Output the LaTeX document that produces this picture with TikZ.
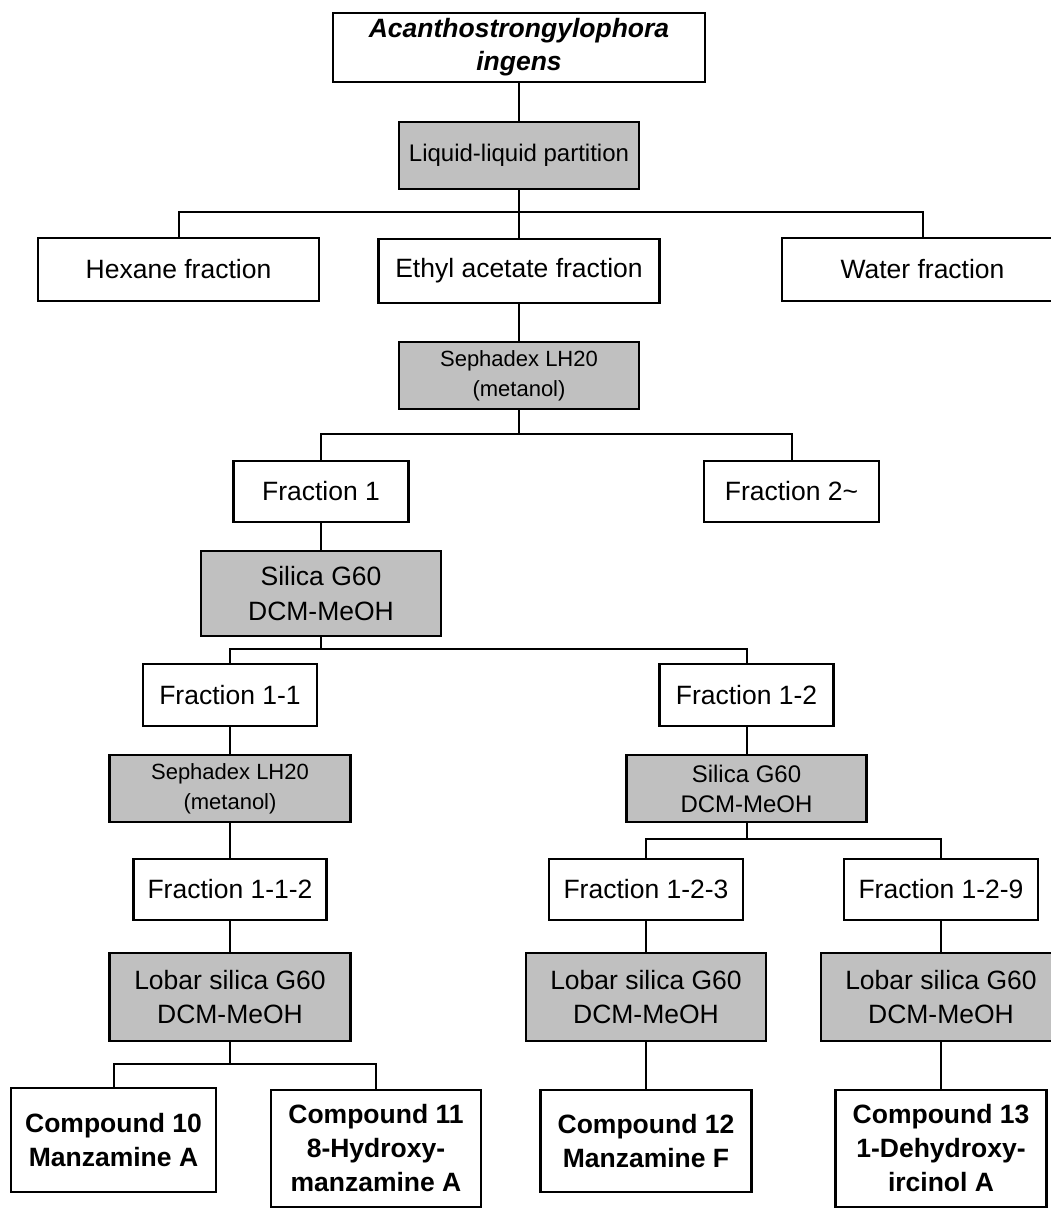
\documentclass[tikz,border=0pt]{standalone}
\usepackage{fontspec}
\setmainfont{Liberation Sans}
\definecolor{boxgray}{HTML}{C0C0C0}
\begin{document}
\begin{tikzpicture}[x=1pt,y=-1pt,
  box/.style={draw=black, line width=2.2pt, fill=white, inner sep=0pt, align=center,
    font=\fontsize{26.5}{34}\selectfont},
  gbox/.style={box, fill=boxgray},
  med/.style={font=\fontsize{24}{30}\selectfont},
  sml/.style={font=\fontsize{22}{30}\selectfont},
  cmp/.style={box, font=\fontsize{26.5}{34}\selectfont\bfseries},
  conn/.style={draw=black, line width=2pt}]
\useasboundingbox (0,0) rectangle (1050,1208);
\fill[white] (0,0) rectangle (1050,1208);

% level 0
\node[box, minimum width=372pt, minimum height=69pt, font=\fontsize{26.5}{33}\selectfont\bfseries\itshape] (top) at (519,47.5) {Acanthostrongylophora\\ingens};
\node[gbox, med, minimum width=240pt, minimum height=67pt] (liq) at (519,155.5) {Liquid-liquid partition};
% level 1
\node[box, minimum width=281pt, minimum height=63pt] (hex) at (178.5,269.5) {Hexane fraction};
\node[box, minimum width=281pt, minimum height=64pt] (eth) at (519,271) {Ethyl acetate fraction};
\node[box, minimum width=281pt, minimum height=63pt] (wat) at (922.5,269.5) {Water fraction};
\node[gbox, sml, minimum width=240pt, minimum height=67pt] (seph1) at (519,375.5) {Sephadex LH20\\(metanol)};
% level 2
\node[box, minimum width=175pt, minimum height=61pt] (f1) at (321,491.5) {Fraction 1};
\node[box, minimum width=175pt, minimum height=61pt] (f2) at (791.5,491.5) {Fraction 2\char"007E};
\node[gbox, minimum width=240pt, minimum height=85pt, font=\fontsize{26.5}{35}\selectfont] (sil1) at (321,593.5) {Silica G60\\DCM-MeOH};
% level 3
\node[box, minimum width=174pt, minimum height=62pt] (f11) at (230,695) {Fraction 1-1};
\node[box, minimum width=174pt, minimum height=62pt] (f12) at (746.5,695) {Fraction 1-2};
\node[gbox, sml, minimum width=241pt, minimum height=67pt] (seph2) at (230,788.5) {Sephadex LH20\\(metanol)};
\node[gbox, med, minimum width=240pt, minimum height=67pt] (sil2) at (746.5,788.5) {Silica G60\\DCM-MeOH};
% level 4
\node[box, minimum width=193pt, minimum height=61pt] (f112) at (230,889.5) {Fraction 1-1-2};
\node[box, minimum width=194pt, minimum height=61pt] (f123) at (646,889.5) {Fraction 1-2-3};
\node[box, minimum width=194pt, minimum height=61pt] (f129) at (941,889.5) {Fraction 1-2-9};
\node[gbox, minimum width=241pt, minimum height=88pt] (lob1) at (230,997) {Lobar silica G60\\DCM-MeOH};
\node[gbox, minimum width=240pt, minimum height=88pt] (lob2) at (646,997) {Lobar silica G60\\DCM-MeOH};
\node[gbox, minimum width=240pt, minimum height=88pt] (lob3) at (941,997) {Lobar silica G60\\DCM-MeOH};
% compounds
\node[cmp, minimum width=205pt, minimum height=104pt] (c10) at (113.5,1140) {Compound 10\\Manzamine A};
\node[cmp, minimum width=210pt, minimum height=117pt] (c11) at (376,1148.5) {Compound 11\\8-Hydroxy-\\manzamine A};
\node[cmp, minimum width=211pt, minimum height=102pt] (c12) at (646,1141) {Compound 12\\Manzamine F};
\node[cmp, minimum width=211pt, minimum height=117pt] (c13) at (941,1148.5) {Compound 13\\1-Dehydroxy-\\ircinol A};

% branch points
\coordinate (b1) at (519,212);
\coordinate (b2) at (519,434);
\coordinate (b3) at (321,649);
\coordinate (b4) at (230,1064);
\coordinate (b5) at (746.5,839);

% connectors
\draw[conn] (top.south) -- (liq.north);
\draw[conn] (liq.south) -- (eth.north);
\draw[conn] (hex.north) |- (b1) -| (wat.north);
\draw[conn] (eth.south) -- (seph1.north);
\draw[conn] (seph1.south) -- (b2);
\draw[conn] (f1.north) |- (b2) -| (f2.north);
\draw[conn] (f1.south) -- (sil1.north);
\draw[conn] (sil1.south) -- (b3);
\draw[conn] (f11.north) |- (b3) -| (f12.north);
\draw[conn] (f11.south) -- (seph2.north);
\draw[conn] (seph2.south) -- (f112.north);
\draw[conn] (f112.south) -- (lob1.north);
\draw[conn] (lob1.south) -- (b4);
\draw[conn] (c10.north) |- (b4) -| (c11.north);
\draw[conn] (f12.south) -- (sil2.north);
\draw[conn] (sil2.south) -- (b5);
\draw[conn] (f123.north) |- (b5) -| (f129.north);
\draw[conn] (f123.south) -- (lob2.north);
\draw[conn] (lob2.south) -- (c12.north);
\draw[conn] (f129.south) -- (lob3.north);
\draw[conn] (lob3.south) -- (c13.north);
\end{tikzpicture}
\end{document}
